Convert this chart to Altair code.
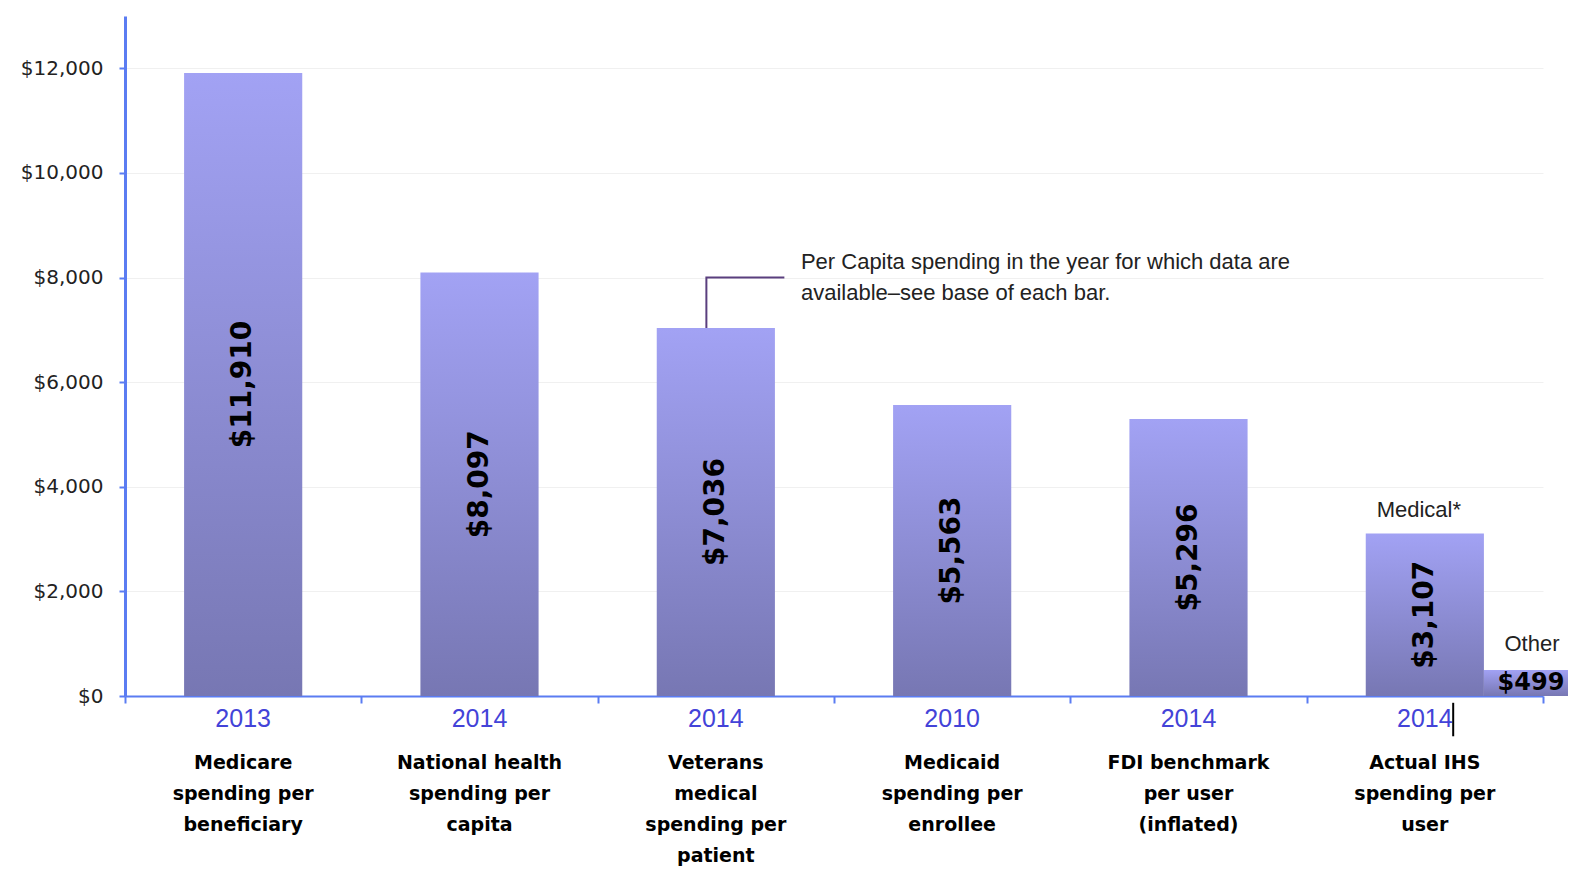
import altair as alt
import pandas as pd

# ---- data ----
categories = [
    "Medicare\nspending per\nbeneficiary",
    "National health\nspending per\ncapita",
    "Veterans\nmedical\nspending per\npatient",
    "Medicaid\nspending per\nenrollee",
    "FDI benchmark\nper user\n(inflated)",
    "Actual IHS\nspending per\nuser",
]
years = ["2013", "2014", "2014", "2010", "2014", "2014"]
values = [11910, 8097, 7036, 5563, 5296, 3107]
value_labels = ["$11,910", "$8,097", "$7,036", "$5,563", "$5,296", "$3,107"]
other_value = [499]
other_label = ["$499"]
y_ticks = [0, 2000, 4000, 6000, 8000, 10000, 12000]
note_lines = ["Per Capita spending in the year for which data are",
              "available\u2013see base of each bar."]

n = len(values)
df = pd.DataFrame({
    "i": list(range(n)),
    "category": categories,
    "year": years,
    "value": values,
    "label": value_labels,
})
df["x0"] = df["i"] + 0.25
df["x1"] = df["i"] + 0.75
df["xc"] = df["i"] + 0.5
df["half"] = df["value"] / 2

other = pd.DataFrame({
    "x0": [n - 0.25], "x1": [n + 0.25], "xc": [n + 0.0],
    "value": other_value, "label": other_label,
})
other["half"] = other["value"] / 2

# annotation connector from the Veterans bar top
conn = pd.DataFrame({
    "x": [2.46, 2.46, 2.79],
    "y": [values[2], 8000, 8000],
    "o": [0, 1, 2],
})
note = pd.DataFrame({"x": [2.86, 2.86], "y": [8300, 7710], "t": note_lines})
mark_line_df = pd.DataFrame({"x": [5.62], "y": [-130], "y2": [-770]})

BLUE = "#5b7cf2"
xs = alt.Scale(domain=[0, n], nice=False, zero=False)
ys = alt.Scale(domain=[0, 13000], nice=False)
x_axis = alt.Axis(values=list(range(n + 1)), labels=False, tickSize=7, tickWidth=2,
                  tickColor=BLUE, domainColor=BLUE, domainWidth=2, grid=False, title=None)
y_axis = alt.Axis(values=y_ticks, format="$,.0f", labelFont="DejaVu Sans",
                  labelFontSize=20, labelColor="#222222", tickColor=BLUE, tickSize=6,
                  tickWidth=2, labelPadding=16, domainColor=BLUE, domainWidth=3,
                  grid=True, gridColor="#f0f0f0", gridWidth=1, title=None)


def X(f):
    return alt.X(f, scale=xs, axis=x_axis, title=None)


def Y(f):
    return alt.Y(f, scale=ys, axis=y_axis, title=None)


grad = alt.Gradient(gradient="linear", x1=0, x2=0, y1=0, y2=1,
                    stops=[alt.GradientStop(color="#a2a2f4", offset=0),
                           alt.GradientStop(color="#7777b3", offset=1)])

bars = alt.Chart(df).mark_bar(fill=grad).encode(
    x=X("x0:Q"), x2="x1:Q", y=Y("value:Q"), y2=alt.datum(0))

other_bar = alt.Chart(other).mark_bar(fill=grad).encode(
    x=X("x0:Q"), x2="x1:Q", y=Y("value:Q"), y2=alt.datum(0))

val_text = alt.Chart(df).mark_text(angle=270, font="DejaVu Sans", fontWeight="bold",
                                   fontSize=28, color="black", align="center",
                                   baseline="middle").encode(
    x=X("xc:Q"), y=Y("half:Q"), text="label:N")

other_text = alt.Chart(other).mark_text(font="DejaVu Sans", fontWeight="bold",
                                        fontSize=24, color="black", align="center",
                                        baseline="middle", dx=-12).encode(
    x=X("xc:Q"), y=Y("half:Q"), text="label:N")

other_name = alt.Chart(other).mark_text(font="Liberation Sans", fontSize=22,
                                        color="#222222", align="center",
                                        baseline="middle", dy=-26, dx=-11).encode(
    x=X("xc:Q"), y=Y("value:Q"), text=alt.value("Other"))

medical = alt.Chart(df[df["i"] == n - 1]).mark_text(font="Liberation Sans", fontSize=22,
                                                   color="#222222", align="center",
                                                   baseline="middle", dy=-23, dx=-6).encode(
    x=X("xc:Q"), y=Y("value:Q"), text=alt.value("Medical*"))

year_text = alt.Chart(df).mark_text(font="Liberation Sans", fontSize=25,
                                    color="#4343d8", align="center",
                                    baseline="middle").encode(
    x=X("xc:Q"), y=alt.value(703), text="year:N")

cat_text = alt.Chart(df).mark_text(font="DejaVu Sans", fontWeight="bold", fontSize=19,
                                   color="black", align="center", baseline="top",
                                   lineBreak="\n", lineHeight=31).encode(
    x=X("xc:Q"), y=alt.value(738), text="category:N")

connector = alt.Chart(conn).mark_line(color="#5a3f7e", strokeWidth=2).encode(
    x=X("x:Q"), y=Y("y:Q"), order="o:Q")

note_text = alt.Chart(note).mark_text(font="Liberation Sans", fontSize=22,
                                      color="#222222", align="left",
                                      baseline="middle").encode(
    x=X("x:Q"), y=Y("y:Q"), text="t:N")

black_mark = alt.Chart(mark_line_df).mark_rule(color="black", strokeWidth=2).encode(
    x=X("x:Q"), y=Y("y:Q"), y2="y2:Q")

chart = alt.layer(
    bars, other_bar, val_text, other_text, other_name, medical,
    year_text, cat_text, connector, note_text, black_mark,
).properties(
    width=1418, height=680,
    autosize=alt.AutoSizeParams(type="none"),
    padding={"left": 117, "top": 8, "right": 25, "bottom": 171},
    background="white",
).configure_view(stroke=None)

chart.save("out.html", embed_options={"renderer": "svg", "actions": False})
